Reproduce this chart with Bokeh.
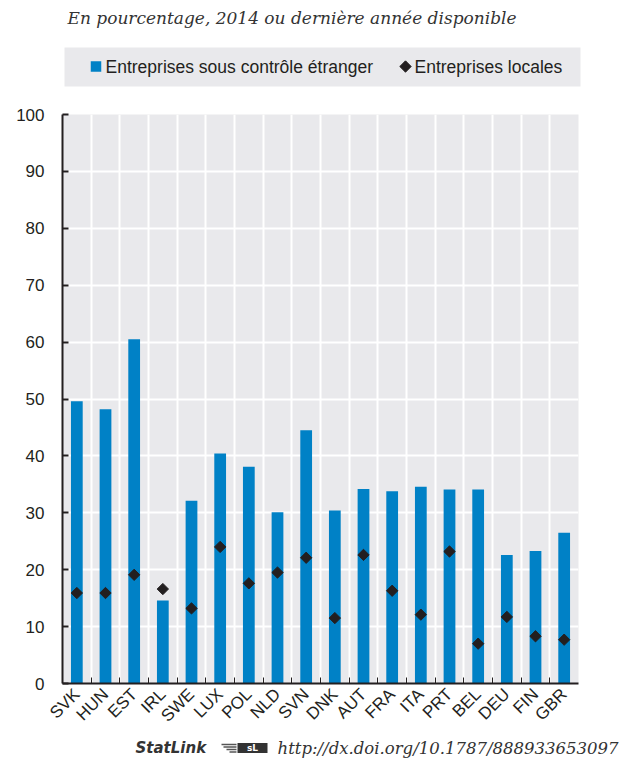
import numpy as np
from bokeh.plotting import figure
from bokeh.models import (FactorRange, FixedTicker, LinearAxis, Label, Range1d,
                          ColumnDataSource, Grid)
from bokeh.embed import file_html
from bokeh.resources import INLINE

# ---- data ----
countries = ["SVK", "HUN", "EST", "IRL", "SWE", "LUX", "POL", "NLD", "SVN",
             "DNK", "AUT", "FRA", "ITA", "PRT", "BEL", "DEU", "FIN", "GBR"]
foreign = [49.6, 48.2, 60.5, 14.6, 32.1, 40.4, 38.1, 30.1, 44.5,
           30.4, 34.2, 33.8, 34.6, 34.1, 34.1, 22.6, 23.3, 26.5]
local = [15.9, 15.9, 19.1, 16.6, 13.2, 24.0, 17.6, 19.5, 22.1,
         11.5, 22.6, 16.3, 12.1, 23.2, 7.0, 11.7, 8.3, 7.7]
y_ticks = [0, 10, 20, 30, 40, 50, 60, 70, 80, 90, 100]

title_text = "En pourcentage, 2014 ou dernière année disponible"
legend_foreign = "Entreprises sous contrôle étranger"
legend_local = "Entreprises locales"
statlink_text = "StatLink"
url_text = "http://dx.doi.org/10.1787/888933653097"

BLUE = "#0081C6"
DARK = "#231F20"
TXT = "#231F20"
BG = "#E9E9EC"
SANS = "Liberation Sans"
SERIF = "DejaVu Serif"
W = 638
HEAD_H = 100
FOOT_H = 23


def blank(h):
    f = figure(width=W, height=h, x_range=Range1d(0, W), y_range=Range1d(0, h),
               output_backend="svg", toolbar_location=None, min_border=0,
               x_axis_location=None, y_axis_location=None)
    f.outline_line_color = None
    f.grid.visible = False
    f.background_fill_color = None
    f.border_fill_color = None
    return f


# ---- header: title + legend (page coordinates, y measured from header bottom) ----
head = blank(HEAD_H)
hy = lambda y: HEAD_H - y
head.add_layout(Label(x=67, y=hy(17), text=title_text, text_font=SERIF,
                      text_font_style="italic", text_font_size="17px",
                      text_color="#333333", text_baseline="middle"))
head.quad(left=64, right=580, top=hy(47), bottom=hy(86), fill_color=BG, line_color=None)
head.scatter(x=[95.5], y=[hy(66)], marker="square", size=10.5, fill_color=BLUE, line_color=None)
head.scatter(x=[405], y=[hy(66)], marker="square", angle=np.pi / 4, size=8,
             fill_color=DARK, line_color=DARK)
head.add_layout(Label(x=105, y=hy(66), text=legend_foreign, text_font=SANS,
                      text_font_size="17.5px", text_color=TXT, text_baseline="middle"))
head.add_layout(Label(x=414, y=hy(66), text=legend_local, text_font=SANS,
                      text_font_size="17.5px", text_color=TXT, text_baseline="middle"))

# ---- main chart ----
src = ColumnDataSource(dict(c=countries, f=foreign, l=local))
n = len(countries)
centers = [i + 0.5 for i in range(n)]
bounds = list(range(1, n))

p = figure(x_range=FactorRange(factors=countries, range_padding=0), y_range=(0, 100),
           width=W, height=735 - HEAD_H, output_backend="svg", toolbar_location=None,
           x_axis_location=None, min_border_left=62, min_border_right=60,
           min_border_top=114 - HEAD_H, min_border_bottom=735 - 683)
p.background_fill_color = BG
p.border_fill_color = None
p.outline_line_color = None

p.xgrid.grid_line_color = None
p.add_layout(Grid(dimension=0, ticker=FixedTicker(ticks=bounds),
                  grid_line_color="white", grid_line_width=2))
p.ygrid.ticker = FixedTicker(ticks=y_ticks)
p.ygrid.grid_line_color = "white"
p.ygrid.grid_line_width = 2

ya = p.yaxis[0]
ya.ticker = FixedTicker(ticks=y_ticks)
ya.major_tick_in = 6
ya.major_tick_out = 0
ya.minor_tick_line_color = None
ya.axis_line_width = 2
ya.axis_line_color = DARK
ya.major_tick_line_color = DARK
ya.major_tick_line_width = 2
ya.major_label_text_font = SANS
ya.major_label_text_font_size = "17px"
ya.major_label_text_color = TXT
ya.major_label_standoff = 18

xa = LinearAxis(ticker=FixedTicker(ticks=centers, minor_ticks=bounds),
                major_label_overrides={c: name for c, name in zip(centers, countries)},
                major_tick_line_color=None, major_tick_in=0, major_tick_out=0,
                minor_tick_in=6, minor_tick_out=0, minor_tick_line_color=DARK,
                minor_tick_line_width=1,
                axis_line_width=2, axis_line_color=DARK,
                major_label_orientation=np.pi / 4,
                major_label_text_font=SANS, major_label_text_font_size="17px",
                major_label_text_color=TXT, major_label_standoff=8)
p.add_layout(xa, "below")

p.vbar(x="c", top="f", width=0.41, source=src, fill_color=BLUE, line_color=None)
p.scatter(x="c", y="l", source=src, marker="square", angle=np.pi / 4, size=8,
          fill_color=DARK, line_color=DARK)

# ---- footer ----
foot = blank(FOOT_H)
fy = lambda y: 758 - y
foot.add_layout(Label(x=135, y=fy(747.5), text=statlink_text, text_font="DejaVu Sans",
                      text_font_style="bold italic", text_font_size="15px",
                      text_color="#333333", text_baseline="middle"))
foot.quad(left=237, right=267, top=fy(742.5), bottom=fy(752.5), fill_color="#333333",
          line_color=None)
foot.add_layout(Label(x=252, y=fy(747.5), text="sL", text_font="DejaVu Sans",
                      text_font_style="bold", text_font_size="9px", text_color="white",
                      text_align="center", text_baseline="middle"))
foot.segment(x0=[221, 223, 226, 229], x1=[236, 236, 236, 236],
             y0=[fy(744), fy(746.5), fy(749), fy(751.5)],
             y1=[fy(744), fy(746.5), fy(749), fy(751.5)],
             line_color="#555555", line_width=1.5)
foot.add_layout(Label(x=277, y=fy(747.5), text=url_text, text_font=SERIF,
                      text_font_style="italic", text_font_size="16.5px",
                      text_color="#333333", text_baseline="middle"))

open("out.html", "w").write(file_html([head, p, foot], INLINE))
